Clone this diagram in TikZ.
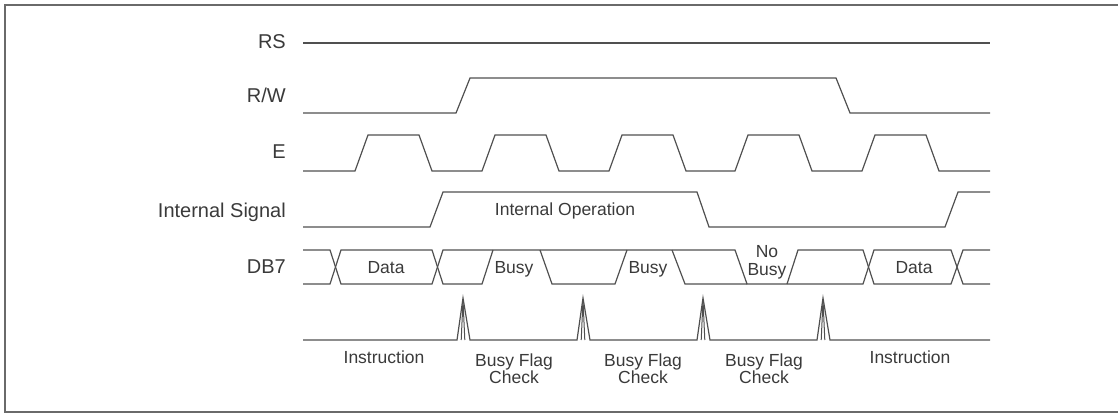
\documentclass[tikz,border=0pt]{standalone}
\usepackage{fontspec}
\setmainfont{Liberation Sans}
\usepackage{xcolor}
\usepackage{tikz}
\definecolor{wavegray}{HTML}{505050}
\definecolor{framegray}{HTML}{6A6A6A}
\definecolor{ink}{HTML}{3A3A3A}

\begin{document}
\begin{tikzpicture}[x=1pt,y=-1pt,
	wave/.style={draw=wavegray,line width=1.2pt,line join=miter},
	signame/.style={anchor=base east,inner sep=0pt,text=ink,font=\fontsize{20}{22}\selectfont},
	tag/.style={inner sep=0pt,text=ink,align=center,font=\fontsize{17.5}{17}\selectfont}]
	\useasboundingbox (0,0) rectangle (1118,414);
	\draw[draw=framegray,line width=1.6pt] (5,5) rectangle (1140,412);
	%
	\node[signame] (rs) at (286,49) {RS};
	\node[signame] (rw) at (286,103) {R/W};
	\node[signame] (en) at (286,159) {E};
	\node[signame] (intsig) at (286,217) {Internal Signal};
	\node[signame] (db7) at (286,273) {DB7};
	%
	\draw[wave] (303,43) -- (990,43);
	\draw[wave] (303,113) -- (456,113) -- (470,78) -- (836,78) -- (850,113) -- (990,113);
	\draw[wave] (303,171) \foreach \x in {355,482,609,735,862} {
		-- (\x,171) -- ({\x+13},135) -- ({\x+64},135) -- ({\x+77},171) } -- (990,171);
	\draw[wave] (303,227) -- (430,227) -- (443,192) -- (697,192) -- (709,227)
		-- (945,227) -- (958,192) -- (990,192);
	%
	\draw[wave] (303,250) -- (330,250) -- (341,284) -- (432,284) -- (443,250) -- (735,250)
		-- (747,284) -- (863,284) -- (874,250) -- (951,250) -- (963,284) -- (990,284);
	\draw[wave] (303,284) -- (330,284) -- (341,250) -- (432,250) -- (443,284) -- (482,284) -- (493,250);
	\draw[wave] (540,250) -- (552,284) -- (615,284) -- (627,250);
	\draw[wave] (672,250) -- (685,284) -- (747,284);
	\draw[wave] (787,284) -- (798,250) -- (863,250) -- (874,284) -- (951,284) -- (963,250) -- (990,250);
	%
	\draw[wave] (303,340) \foreach \x in {463,583,703,823} {
		-- ({\x-6},340) -- (\x,298) -- ({\x+7},340) } -- (990,340);
	\foreach \x in {463,583,703,823}
		\draw[wave,line width=1pt] ({\x-1.8},340) -- (\x,300) -- ({\x+1.8},340);
	%
	\node[tag,anchor=base] (intop) at (565,215) {Internal Operation};
	\node[tag,anchor=base] (data1) at (386,273) {Data};
	\node[tag,anchor=base] (busy1) at (514,273) {Busy};
	\node[tag,anchor=base] (busy2) at (648,273) {Busy};
	\node[tag,font=\fontsize{17.5}{18}\selectfont] (nobusy) at (767,262) {No\\Busy};
	\node[tag,anchor=base] (data2) at (914,273) {Data};
	%
	\node[tag,anchor=base] (instr1) at (384,363) {Instruction};
	\node[tag] (check1) at (514,369) {Busy Flag\\Check};
	\node[tag] (check2) at (643,369) {Busy Flag\\Check};
	\node[tag] (check3) at (764,369) {Busy Flag\\Check};
	\node[tag,anchor=base] (instr2) at (910,363) {Instruction};
\end{tikzpicture}
\end{document}
